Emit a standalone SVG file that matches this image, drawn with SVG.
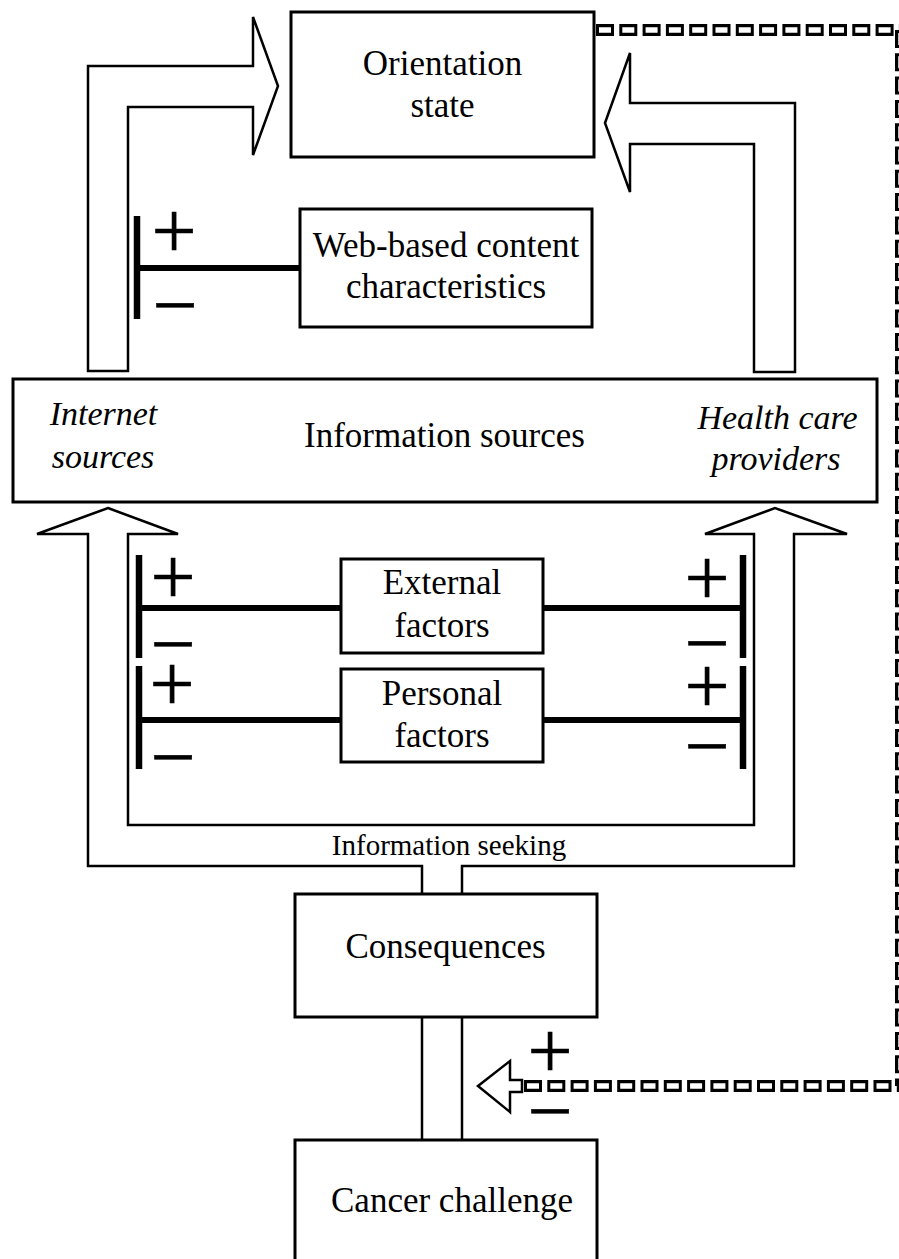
<svg xmlns="http://www.w3.org/2000/svg" width="899" height="1259" viewBox="0 0 899 1259">
<style>
.box{fill:#fff;stroke:#000;stroke-width:3}
.arrow{fill:#fff;stroke:#000;stroke-width:2.5;stroke-linejoin:miter}
.t{font-family:"Liberation Serif","Times New Roman",serif;font-size:35px;text-anchor:middle;fill:#000}
.it{font-style:italic;font-size:34px}
.small{font-size:29px}
.bar{stroke:#000;stroke-width:6.5}
.link{stroke:#000;stroke-width:6}
.pm{font-family:"Liberation Serif","Times New Roman",serif;font-size:80px;text-anchor:middle;fill:#000;stroke:#000;stroke-width:0.6}
.dashO{fill:none;stroke:#000;stroke-width:12;stroke-dasharray:18 5.3}
.dashI{fill:none;stroke:#fff;stroke-width:5.5;stroke-dasharray:12 11.3;stroke-dashoffset:-3}
.stem{stroke:#000;stroke-width:2.5}
</style>
<rect width="899" height="1259" fill="#fff"/>
<g id="connectors">
  <path class="arrow" d="M88,371 L88,66 L253,66 L253,17 L278,86 L253,155 L253,107 L128,107 L128,371 Z"/>
  <path class="arrow" d="M605,123 L630,53 L630,103 L795,103 L795,372 L754,372 L754,144 L630,144 L630,192 Z"/>
  <path class="arrow" d="M108,508 L178,534 L128,534 L128,825 L754,825 L754,534 L705,534 L775,508 L847,534 L794,534 L794,866 L462,866 L462,895 L422,895 L422,866 L88,866 L88,534 L37,534 Z"/>
  <line class="stem" x1="422" y1="1017" x2="422" y2="1140"/>
  <line class="stem" x1="462" y1="1017" x2="462" y2="1140"/>
  <line class="bar" x1="137" y1="216" x2="137" y2="319"/>
  <line class="link" x1="137" y1="268" x2="300" y2="268"/>
  <line class="bar" x1="139" y1="555" x2="139" y2="658"/>
  <line class="bar" x1="139" y1="666" x2="139" y2="769"/>
  <line class="link" x1="139" y1="608" x2="341" y2="608"/>
  <line class="link" x1="139" y1="720" x2="341" y2="720"/>
  <line class="bar" x1="743" y1="555" x2="743" y2="658"/>
  <line class="bar" x1="743" y1="666" x2="743" y2="769"/>
  <line class="link" x1="543" y1="608" x2="743" y2="608"/>
  <line class="link" x1="543" y1="720" x2="743" y2="720"/>
  <g id="feedback">
    <path class="dashO" d="M596,30 L901,30"/>
    <path class="dashI" d="M596,30 L901,30"/>
    <path class="dashO" d="M901,30 L901,1086"/>
    <path class="dashI" d="M901,30 L901,1086"/>
    <path class="dashO" d="M524,1086 L901,1086"/>
    <path class="dashI" d="M524,1086 L901,1086"/>
    <path class="arrow" d="M478,1086 L510,1061 L510,1080 L522,1080 L522,1092 L510,1092 L510,1112 Z"/>
  </g>
  <text class="t small" x="449" y="855">Information seeking</text>
  <text class="pm"><tspan x="174" y="258">+</tspan><tspan x="175" y="332">−</tspan></text>
  <text class="pm"><tspan x="173" y="604">+</tspan><tspan x="173" y="671">−</tspan></text>
  <text class="pm"><tspan x="172" y="711">+</tspan><tspan x="173" y="784">−</tspan></text>
  <text class="pm"><tspan x="707" y="605">+</tspan><tspan x="707" y="670">−</tspan></text>
  <text class="pm"><tspan x="707" y="713">+</tspan><tspan x="707" y="773">−</tspan></text>
  <text class="pm"><tspan x="550" y="1078">+</tspan><tspan x="550" y="1138">−</tspan></text>
</g>
<g id="orientation">
  <rect class="box" x="291" y="12" width="303" height="145"/>
  <text class="t" x="442.5" y="75">Orientation</text>
  <text class="t" x="442.5" y="117">state</text>
</g>
<g id="web">
  <rect class="box" x="300" y="209" width="292" height="118"/>
  <text class="t" x="446" y="257">Web-based content</text>
  <text class="t" x="446" y="298">characteristics</text>
</g>
<g id="info">
  <rect class="box" x="13" y="379" width="864" height="123"/>
  <text class="t it" x="103.5" y="425">Internet</text>
  <text class="t it" x="103" y="468">sources</text>
  <text class="t" x="444.5" y="447">Information sources</text>
  <text class="t it" x="777.5" y="429">Health care</text>
  <text class="t it" x="776" y="470">providers</text>
</g>
<g id="external">
  <rect class="box" x="341" y="559" width="202" height="94"/>
  <text class="t" x="442" y="594">External</text>
  <text class="t" x="442" y="637">factors</text>
</g>
<g id="personal">
  <rect class="box" x="341" y="669" width="202" height="93"/>
  <text class="t" x="442" y="705">Personal</text>
  <text class="t" x="442" y="747">factors</text>
</g>
<g id="consequences">
  <rect class="box" x="295" y="894" width="302" height="123"/>
  <text class="t" x="445.5" y="958">Consequences</text>
</g>
<g id="cancer">
  <rect class="box" x="295" y="1140" width="302" height="130"/>
  <text class="t" x="452" y="1212">Cancer challenge</text>
</g>
</svg>
